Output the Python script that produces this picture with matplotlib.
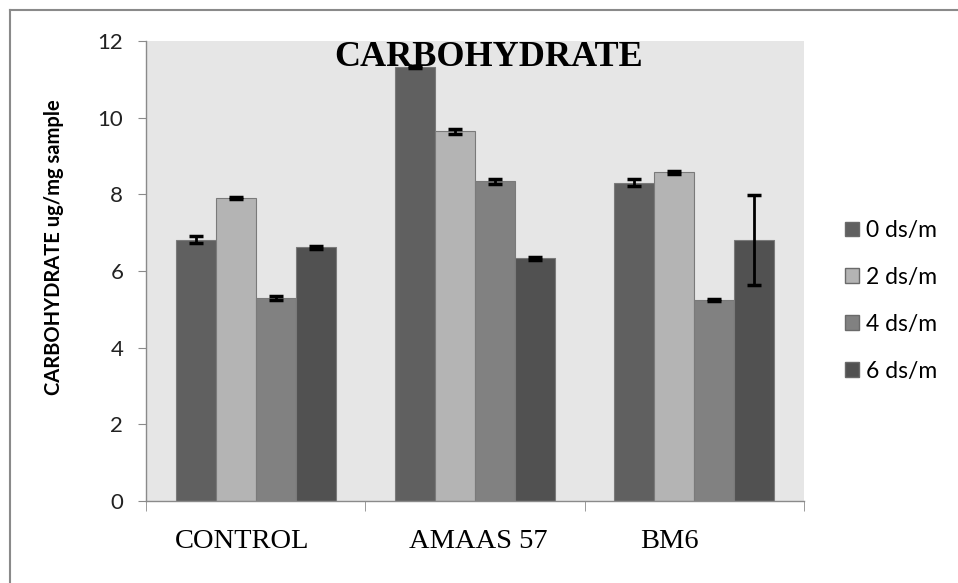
import matplotlib
matplotlib.use("Agg")
import matplotlib.pyplot as plt
import numpy as np
from matplotlib.lines import Line2D
from matplotlib.patches import Patch

categories = ["CONTROL", "AMAAS 57", "BM6"]
series_names = ["0 ds/m", "2 ds/m", "4 ds/m", "6 ds/m"]
values = {
    "0 ds/m": [6.82, 11.32, 8.30],
    "2 ds/m": [7.90, 9.64, 8.57],
    "4 ds/m": [5.29, 8.34, 5.25],
    "6 ds/m": [6.62, 6.33, 6.80],
}
errors = {
    "0 ds/m": [0.10, 0.03, 0.09],
    "2 ds/m": [0.03, 0.06, 0.04],
    "4 ds/m": [0.05, 0.06, 0.03],
    "6 ds/m": [0.04, 0.03, 1.17],
}
colors = ["#606060", "#b4b4b4", "#818181", "#515151"]
label_shift_px = [-14, 3, -25]

fig = plt.figure(figsize=(9.58, 5.83), dpi=100)
ax = fig.add_axes([146/958, 1-501/583, (804-146)/958, (501-41)/583])
ax.set_facecolor("#e6e6e6")

x = np.arange(len(categories))
w = 0.182
for i, name in enumerate(series_names):
    pos = x + (i - 1.5) * w
    ax.bar(pos, values[name], width=w, color=colors[i], edgecolor="#7a7a7a",
           linewidth=0.8, zorder=2)
    ax.errorbar(pos, values[name], yerr=errors[name], fmt="none", ecolor="black",
                elinewidth=2, capsize=5, capthick=2.5, zorder=3)

ax.set_xlim(-0.5, 2.5)
ax.set_ylim(0, 12)
ax.set_yticks(range(0, 13, 2))
ax.set_xticks(x)
ax.set_xticklabels([])
ax.set_xticks([-0.5, 0.5, 1.5, 2.5], minor=True)
ax.tick_params(axis="x", which="major", length=0)
ax.tick_params(axis="x", which="minor", length=7, direction="out", color="#8a8a8a")
ax.tick_params(axis="y", length=5.8, direction="out", color="#8a8a8a", labelsize=16,
               pad=10.5, labelcolor="#222222")
for lab in ax.get_yticklabels():
    lab.set_fontfamily("Lato")

# category labels (slightly off-centre as in the original)
xt = ax.get_xaxis_transform()
for xi, cat, dx in zip(x, categories, label_shift_px):
    ax.annotate(cat, xy=(xi, 0), xycoords=xt, xytext=(dx * 0.72, -19.8),
                textcoords="offset points", ha="center", va="top",
                fontfamily="Liberation Serif", fontsize=20.5, annotation_clip=False)

for s in ["top", "right"]:
    ax.spines[s].set_visible(False)
for s in ["left", "bottom"]:
    ax.spines[s].set_color("#8a8a8a")
    ax.spines[s].set_linewidth(1)

ax.set_ylabel("CARBOHYDRATE ug/mg sample", fontfamily="Lato", fontweight="bold",
              fontsize=14.5)
ax.yaxis.set_label_coords((64-146)/658, (501-247)/460)

ax.text((489-146)/658, (501-66)/460, "CARBOHYDRATE", transform=ax.transAxes,
        ha="center", va="baseline",
        fontfamily="Liberation Serif", fontweight="bold", fontsize=26, zorder=5)

handles = [Patch(facecolor=colors[i], edgecolor="#6a6a6a", label=series_names[i])
           for i in range(4)]
leg = fig.legend(handles=handles, loc="upper left", bbox_to_anchor=(838/958, 1-213/583),
                 frameon=False, prop={"family": "Lato", "size": 16.5},
                 handlelength=0.6, handleheight=0.6, handletextpad=0.3,
                 labelspacing=1.13, borderaxespad=0, borderpad=0.3)

# figure border
fig.add_artist(Line2D([10/958, 10/958], [0, 1-10/583], transform=fig.transFigure,
                      color="#8a8a8a", linewidth=1.5))
fig.add_artist(Line2D([10/958, 1], [1-10/583, 1-10/583], transform=fig.transFigure,
                      color="#8a8a8a", linewidth=1.5))

fig.savefig("out.png", dpi=100)
